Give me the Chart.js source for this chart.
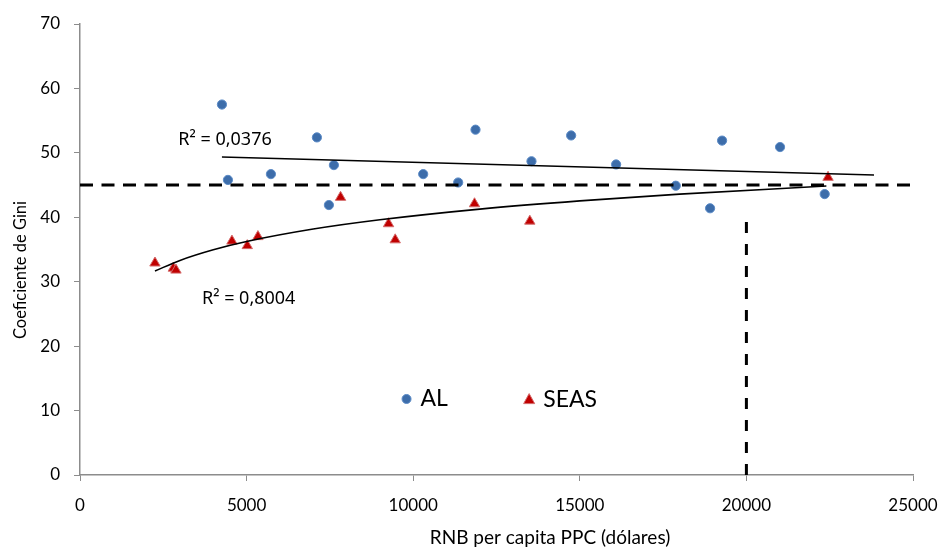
<!DOCTYPE html>
<html>
<head>
<meta charset="utf-8">
<script src="https://cdn.jsdelivr.net/npm/chart.js@4.4.1/dist/chart.umd.min.js"></script>
<style>
  html, body { margin: 0; padding: 0; background: #fff; }
  #wrap { width: 947px; height: 550px; }
</style>
</head>
<body>
<div id="wrap"><canvas id="gini-chart"></canvas></div>
<script>
// AL (America Latina) points
const alX = [4260, 4440, 5730, 7110, 7620, 7470, 10300, 11350, 11870, 13550, 14740, 16090, 17880, 18910, 19270, 21010, 22350];
const alY = [57.5, 45.8, 46.7, 52.4, 48.1, 41.9, 46.7, 45.4, 53.6, 48.7, 52.7, 48.2, 44.9, 41.4, 51.9, 50.9, 43.6];

// SEAS points
const seasX = [2250, 2800, 2880, 4560, 5020, 5340, 7820, 9260, 9460, 11840, 13500, 22450];
const seasY = [32.9, 32.1, 31.8, 36.3, 35.6, 37.0, 43.1, 39.0, 36.5, 42.1, 39.4, 46.2];

// trendlines
const alTrendX = [4260, 23830];
const alTrendY = [49.35, 46.56];
const seasTrendX = [2250, 3000, 4000, 5000, 7000, 9000, 12000, 15000, 18000, 22400];
const seasTrendY = [31.66, 33.31, 34.96, 36.24, 38.17, 39.61, 41.27, 42.55, 43.59, 44.85];

// reference lines
const hLineX = [0, 25000];
const hLineY = [45, 45];
const vLineX = [20000, 20000];
const vLineY = [0, 40];

const r2Labels = ['R² = 0,0376', 'R² = 0,8004'];
const r2X = [2950, 3660];
const r2Y = [52.0, 27.3];

const legendLabels = ['AL', 'SEAS'];
const legendX = [9800, 13480];
const legendY = [11.8, 11.7];

const xTitle = 'RNB per capita PPC (dólares)';
const yTitle = 'Coeficiente de Gini';

const toPts = (xs, ys) => xs.map((x, i) => ({ x: x, y: ys[i] }));

const FONT = 'Lato, "Noto Sans", sans-serif';
const AXIS_GRAY = '#8c8c8c';

const overlay = {
    id: 'overlay',
    afterDatasetsDraw(chart) {
        const ctx = chart.ctx;
        const xs = chart.scales.x, ys = chart.scales.y;
        ctx.save();
        ctx.fillStyle = '#000';
        ctx.textBaseline = 'middle';
        ctx.textAlign = 'left';

        // R² labels
        ctx.font = '18px "Noto Sans", sans-serif';
        r2Labels.forEach((t, i) => {
            ctx.fillText(t, xs.getPixelForValue(r2X[i]), ys.getPixelForValue(r2Y[i]));
        });

        // legend inside plot
        legendLabels.forEach((t, i) => {
            const ds = chart.data.datasets[i];
            const px = xs.getPixelForValue(legendX[i]);
            const py = ys.getPixelForValue(legendY[i]);
            ctx.fillStyle = ds.backgroundColor;
            ctx.strokeStyle = ds.borderColor;
            ctx.lineWidth = 1;
            ctx.beginPath();
            if (i === 0) {
                ctx.arc(px, py, 4.5, 0, Math.PI * 2);
            } else {
                ctx.moveTo(px, py - 6);
                ctx.lineTo(px + 5.5, py + 4);
                ctx.lineTo(px - 5.5, py + 4);
                ctx.closePath();
            }
            ctx.fill();
            ctx.stroke();
            ctx.fillStyle = '#000';
            ctx.font = '23px ' + FONT;
            ctx.fillText(t, px + 14, py);
        });

        // axis titles
        ctx.font = '19px ' + FONT;
        ctx.textAlign = 'center';
        ctx.fillText(xTitle, 550, 538);
        ctx.translate(21, 270);
        ctx.rotate(-Math.PI / 2);
        ctx.font = '16.5px ' + FONT;
        ctx.fillText(yTitle, 0, 0);
        ctx.restore();
    }
};

new Chart(document.getElementById('gini-chart'), {
    type: 'scatter',
    data: {
        datasets: [
            {
                label: 'AL',
                data: toPts(alX, alY),
                pointStyle: 'circle',
                pointRadius: 4.6,
                backgroundColor: '#3d6daa',
                borderColor: '#5a8ac6',
                borderWidth: 1,
                order: 3
            },
            {
                label: 'SEAS',
                data: toPts(seasX, seasY),
                pointStyle: 'triangle',
                pointRadius: 6,
                backgroundColor: '#c00000',
                borderColor: '#d46a6a',
                borderWidth: 1,
                order: 3
            },
            {
                label: 'trend AL',
                data: toPts(alTrendX, alTrendY),
                showLine: true,
                pointRadius: 0,
                borderColor: '#000',
                borderWidth: 1.6,
                order: 2
            },
            {
                label: 'trend SEAS',
                data: toPts(seasTrendX, seasTrendY),
                showLine: true,
                pointRadius: 0,
                borderColor: '#000',
                borderWidth: 1.6,
                cubicInterpolationMode: 'monotone',
                order: 2
            },
            {
                label: 'h',
                data: toPts(hLineX, hLineY),
                showLine: true,
                pointRadius: 0,
                borderColor: '#000',
                borderWidth: 3,
                borderDash: [13, 8.5],
                order: 1
            },
            {
                label: 'v',
                data: toPts(vLineX, vLineY),
                showLine: true,
                pointRadius: 0,
                borderColor: '#000',
                borderWidth: 3,
                borderDash: [11, 11],
                order: 1
            }
        ]
    },
    options: {
        responsive: true,
        maintainAspectRatio: false,
        animation: false,
        layout: { padding: { top: 24, right: 34, left: 0, bottom: 0 } },
        plugins: {
            legend: { display: false },
            tooltip: { enabled: false }
        },
        scales: {
            x: {
                type: 'linear',
                min: 0,
                max: 25000,
                ticks: {
                    stepSize: 5000,
                    color: '#000',
                    padding: 14,
                    maxRotation: 0,
                    font: { family: FONT, size: 17 },
                    callback: (v) => String(v)
                },
                grid: { drawOnChartArea: false, drawTicks: true, tickLength: 6, color: AXIS_GRAY },
                border: { color: AXIS_GRAY, width: 1.5 },
                afterFit(scale) {
                    scale.height = 75;
                    scale.paddingLeft = 0;
                    scale.paddingRight = 0;
                }
            },
            y: {
                min: 0,
                max: 70,
                ticks: {
                    stepSize: 10,
                    color: '#000',
                    padding: 14,
                    font: { family: FONT, size: 17 }
                },
                grid: { drawOnChartArea: false, drawTicks: true, tickLength: 6, color: AXIS_GRAY },
                border: { color: AXIS_GRAY, width: 1.5 },
                afterFit(scale) {
                    scale.width = 80;
                    scale.paddingTop = 0;
                    scale.paddingBottom = 0;
                }
            }
        }
    },
    plugins: [overlay]
});
</script>
</body>
</html>
